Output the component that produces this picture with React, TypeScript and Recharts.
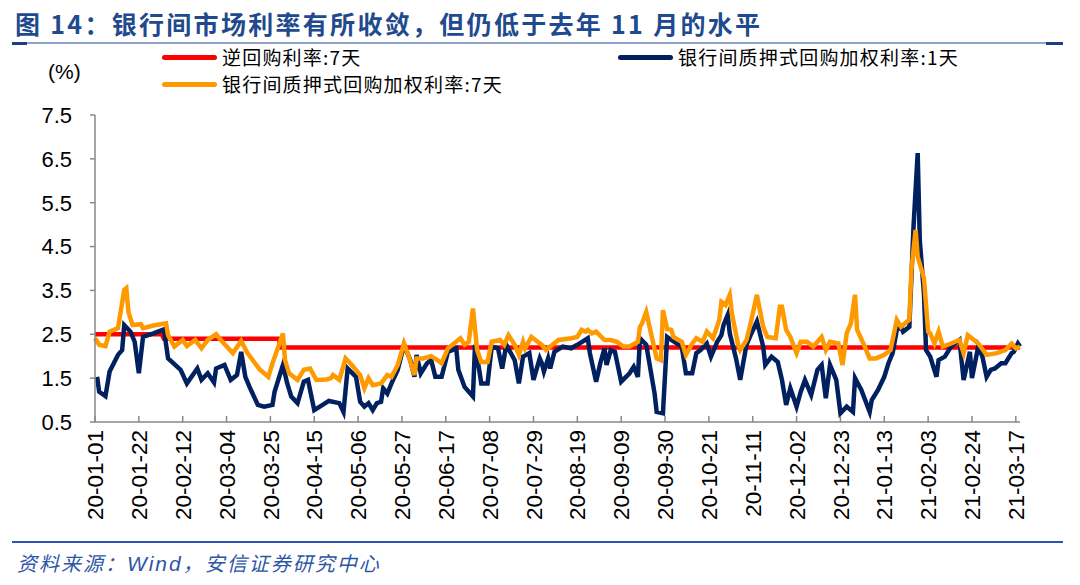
import React from "react";
import { Line, LineChart, XAxis, YAxis } from "recharts";

// x values are day offsets from 2020-01-01
const repoDays = [0, 32, 33, 88, 89, 443];
const repoRates = [2.5, 2.5, 2.4, 2.4, 2.2, 2.2];

const oneDayDays = [
  1, 2, 5, 7, 11, 13, 14, 17, 19, 21, 23, 28, 33, 35, 41, 44, 49, 51, 54, 57, 58, 62, 65, 68, 70, 72, 74, 78,
  81, 85, 86, 90, 92, 94, 97, 100, 102, 105, 109, 112, 117, 119, 121, 125, 127, 129, 131, 133, 135, 137, 138,
  140, 142, 145, 148, 151, 153, 154, 156, 159, 161, 163, 166, 169, 173, 174, 177, 181, 182, 184, 185, 188, 190,
  193, 195, 197, 201, 203, 205, 208, 210, 213, 214, 215, 217, 218, 220, 224, 228, 231, 236, 237, 240, 242, 244,
  245, 247, 249, 252, 256, 258, 260, 261, 264, 268, 269, 272, 274, 276, 281, 283, 286, 288, 290, 293, 295, 298,
  300, 301, 303, 304, 307, 309, 312, 314, 317, 320, 321, 324, 327, 329, 331, 333, 336, 338, 340, 343, 346, 348,
  350, 352, 355, 357, 360, 363, 364, 367, 371, 372, 375, 378, 380, 382, 384, 386, 387, 390, 392, 394, 395, 397,
  398, 400, 403, 404, 407, 410, 414, 416, 419, 420, 423, 425, 427, 429, 431, 434, 436, 439, 440, 442, 443,
];
const oneDayRates = [
  1.53, 1.19, 1.09, 1.65, 2.03, 2.14, 2.71, 2.56, 2.33, 1.61, 2.44, 2.52, 2.61, 1.95, 1.69, 1.38, 1.72, 1.46,
  1.61, 1.4, 1.72, 1.8, 1.46, 1.57, 2.1, 1.53, 1.3, 0.89, 0.85, 0.89, 1.19, 1.8, 1.39, 1.08, 0.93, 1.42, 1.46,
  0.77, 0.89, 0.98, 0.93, 0.73, 1.72, 1.53, 0.96, 0.85, 0.93, 0.77, 0.93, 0.96, 1.27, 1.15, 1.38, 1.69, 2.26,
  1.91, 1.53, 2.03, 1.61, 1.84, 1.91, 1.53, 1.53, 2.1, 2.18, 1.69, 1.3, 1.08, 2.26, 1.69, 1.38, 1.38, 2.22, 2.18,
  1.72, 2.26, 1.91, 1.38, 1.99, 2.07, 1.46, 1.95, 1.84, 1.65, 1.95, 1.72, 2.1, 2.22, 2.18, 2.26, 2.41, 2.07, 1.42,
  1.84, 2.18, 1.8, 2.14, 2.1, 1.42, 1.61, 1.76, 1.53, 2.41, 2.26, 1.15, 0.73, 0.7, 2.44, 2.37, 2.22, 1.61, 1.61,
  2.07, 2.14, 2.29, 1.99, 2.33, 2.48, 2.71, 2.94, 2.52, 1.95, 1.46, 2.26, 2.48, 2.79, 2.22, 1.8, 1.99, 1.87, 1.46,
  0.89, 1.27, 0.85, 1.19, 1.46, 1.12, 1.69, 1.8, 1.04, 1.8, 1.46, 0.7, 0.85, 0.73, 1.5, 1.23, 0.73, 1.0, 1.23,
  1.53, 1.84, 2.07, 2.6, 2.67, 2.56, 2.67, 4.95, 6.63, 4.65, 3.43, 2.14, 1.99, 1.53, 1.91, 1.99, 2.22, 2.37, 1.46,
  2.1, 1.5, 2.22, 1.99, 1.53, 1.69, 1.72, 1.84, 1.84, 2.07, 2.1, 2.29, 2.22,
];

const sevenDayDays = [
  0, 2, 5, 7, 11, 14, 15, 16, 18, 22, 23, 28, 34, 35, 38, 42, 44, 48, 51, 54, 58, 61, 66, 70, 73, 79, 83, 85, 90,
  91, 93, 97, 100, 103, 106, 111, 113, 114, 117, 120, 123, 127, 129, 131, 133, 137, 140, 142, 145, 148, 150, 153,
  154, 157, 161, 164, 166, 169, 175, 177, 179, 181, 183, 185, 188, 190, 194, 196, 198, 201, 203, 205, 206, 209,
  212, 214, 216, 218, 222, 228, 231, 233, 235, 236, 238, 240, 244, 247, 250, 253, 256, 260, 261, 262, 264, 267,
  269, 271, 272, 274, 276, 277, 281, 283, 286, 288, 291, 293, 296, 299, 300, 302, 304, 305, 308, 309, 312, 314,
  317, 320, 322, 326, 328, 329, 331, 333, 336, 338, 341, 344, 346, 348, 350, 352, 356, 358, 360, 362, 364, 365,
  368, 371, 374, 378, 381, 384, 386, 388, 390, 391, 393, 394, 397, 399, 400, 402, 404, 406, 410, 414, 416, 418,
  421, 423, 427, 432, 436, 439, 441, 443,
];
const sevenDayRates = [
  2.41, 2.26, 2.23, 2.56, 2.64, 3.51, 3.55, 3.01, 2.71, 2.73, 2.64, 2.7, 2.75, 2.48, 2.22, 2.37, 2.23, 2.37, 2.18,
  2.37, 2.5, 2.33, 2.07, 2.35, 2.07, 1.69, 1.53, 1.84, 2.52, 1.91, 1.61, 1.46, 1.69, 1.72, 1.46, 1.47, 1.5, 1.57,
  1.46, 1.95, 1.8, 1.57, 1.27, 1.5, 1.34, 1.38, 1.57, 1.53, 1.8, 2.29, 2.03, 1.57, 1.95, 1.95, 2.0, 1.91, 1.84,
  2.18, 2.41, 2.26, 2.33, 3.09, 2.14, 1.87, 1.87, 2.33, 2.37, 2.26, 2.48, 2.26, 2.03, 2.33, 2.18, 2.44, 2.33, 2.26,
  2.14, 2.22, 2.37, 2.41, 2.44, 2.6, 2.56, 2.6, 2.52, 2.56, 2.37, 2.37, 2.33, 2.22, 2.22, 2.33, 2.67, 2.75, 3.01,
  2.37, 1.95, 1.91, 3.05, 2.62, 2.6, 2.44, 2.33, 2.03, 2.29, 2.41, 2.33, 2.56, 2.41, 2.83, 3.24, 3.17, 3.4, 2.98,
  2.26, 2.14, 2.37, 2.75, 3.4, 2.67, 2.44, 2.41, 3.13, 3.13, 2.6, 2.44, 2.07, 2.33, 2.33, 2.22, 2.33, 2.44, 2.14,
  2.33, 2.29, 1.8, 2.52, 2.75, 3.4, 2.6, 2.29, 1.95, 1.95, 2.03, 2.14, 2.83, 2.67, 2.75, 2.83, 3.97, 4.88, 4.27,
  3.78, 2.56, 2.52, 2.29, 2.56, 2.22, 2.29, 2.37, 2.07, 2.48, 2.37, 2.29, 2.03, 2.07, 2.14, 2.29, 2.18, 2.22,
];

const yTicks = [0.5, 1.5, 2.5, 3.5, 4.5, 5.5, 6.5, 7.5];
const xTicks = [0, 21, 42, 63, 84, 105, 126, 147, 168, 189, 210, 231, 252, 273, 294, 315, 336, 357, 378, 399, 420, 441];

const zip = (days: number[], vals: number[]) => days.map((d, i) => ({ d, v: vals[i] }));
const repoData = zip(repoDays, repoRates);
const oneDayData = zip(oneDayDays, oneDayRates);
const sevenDayData = zip(sevenDayDays, sevenDayRates);

const FONT = '"Liberation Sans", Arial, "Noto Sans CJK SC", sans-serif';
const CJK = '"Noto Sans CJK SC", "Liberation Sans", sans-serif';

function dayLabel(d: number): string {
  const t = new Date(Date.UTC(2020, 0, 1) + d * 86400000);
  const yy = String(t.getUTCFullYear()).slice(2);
  const mm = String(t.getUTCMonth() + 1).padStart(2, "0");
  const dd = String(t.getUTCDate()).padStart(2, "0");
  return `${yy}-${mm}-${dd}`;
}

function DateTick(props: any) {
  const { x, y, payload } = props;
  return (
    <g>
      <line x1={x} y1={y} x2={x} y2={y - 6} stroke="#888" strokeWidth={1.5} />
      <text
        transform={`translate(${x},${y + 8}) rotate(-90)`}
        textAnchor="end"
        dy="0.36em"
        fontSize={22.5}
        fontFamily={FONT}
        fill="#000"
      >
        {dayLabel(payload.value)}
      </text>
    </g>
  );
}

function LegendItem({ color, label, left, top }: { color: string; label: string; left: number; top: number }) {
  return (
    <div style={{ position: "absolute", left, top, height: 22, display: "flex", alignItems: "center" }}>
      <div style={{ width: 55, height: 5, background: color, borderRadius: 3, marginRight: 5 }} />
      <span
        style={{
          fontSize: 19,
          lineHeight: "22px",
          fontFamily: CJK,
          color: "#000",
          letterSpacing: 1.2,
          whiteSpace: "nowrap",
        }}
      >
        {label}
      </span>
    </div>
  );
}

export default function App() {
  return (
    <div
      style={{
        position: "absolute",
        left: 0,
        top: 0,
        width: 1080,
        height: 585,
        background: "#fff",
        overflow: "hidden",
      }}
    >
      <div
        style={{
          position: "absolute",
          left: 15,
          top: 5,
          fontSize: 25,
          fontWeight: 700,
          fontFamily: CJK,
          color: "#1f4a8e",
          letterSpacing: 2.3,
          whiteSpace: "nowrap",
        }}
      >
        图 14：银行间市场利率有所收敛，但仍低于去年 11 月的水平
      </div>
      <div style={{ position: "absolute", left: 12, top: 42, width: 1051, height: 2, background: "#8fa3cc" }} />
      <div style={{ position: "absolute", left: 12, top: 42, width: 15, height: 3, background: "#1f3f80" }} />
      <div style={{ position: "absolute", left: 1046, top: 42, width: 17, height: 3, background: "#1f3f80" }} />

      <LegendItem color="#ff0000" label="逆回购利率:7天" left={162} top={46} />
      <LegendItem color="#002060" label="银行间质押式回购加权利率:1天" left={618} top={46} />
      <LegendItem color="#ff9900" label="银行间质押式回购加权利率:7天" left={162} top={73} />
      <div
        style={{
          position: "absolute",
          left: 48,
          top: 60,
          fontSize: 21,
          lineHeight: "24px",
          fontFamily: FONT,
          color: "#000",
        }}
      >
        (%)
      </div>

      <div style={{ position: "absolute", left: 0, top: 0 }}>
        <LineChart width={1080} height={540} margin={{ top: 115, right: 60, left: 35, bottom: 8 }}>
          <XAxis
            dataKey="d"
            type="number"
            domain={[0, 443]}
            ticks={xTicks}
            interval={0}
            allowDuplicatedCategory={false}
            tick={<DateTick />}
            tickLine={false}
            tickSize={0}
            tickMargin={0}
            height={110}
            stroke="#888"
            strokeWidth={1.5}
          />
          <YAxis
            type="number"
            domain={[0.5, 7.5]}
            ticks={yTicks}
            interval={0}
            width={60}
            tickFormatter={(v: number) => v.toFixed(1)}
            tick={{ fontSize: 22, fill: "#000", fontFamily: FONT }}
            tickSize={5}
            tickMargin={18}
            stroke="#888"
            strokeWidth={1.5}
          />
          <Line
            data={repoData}
            dataKey="v"
            type="linear"
            stroke="#ff0000"
            strokeWidth={4.5}
            dot={false}
            isAnimationActive={false}
          />
          <Line
            data={oneDayData}
            dataKey="v"
            type="linear"
            stroke="#002060"
            strokeWidth={4.5}
            dot={false}
            isAnimationActive={false}
          />
          <Line
            data={sevenDayData}
            dataKey="v"
            type="linear"
            stroke="#ff9900"
            strokeWidth={4.5}
            dot={false}
            isAnimationActive={false}
          />
        </LineChart>
      </div>

      <div style={{ position: "absolute", left: 12, top: 541, width: 1051, height: 2, background: "#2b55b5" }} />
      <div
        style={{
          position: "absolute",
          left: 17,
          top: 548,
          fontSize: 20,
          fontStyle: "italic",
          fontFamily: CJK,
          color: "#2e55a5",
          letterSpacing: 2,
          whiteSpace: "nowrap",
        }}
      >
        资料来源：<span style={{ fontFamily: FONT, fontSize: 21 }}>Wind</span>，安信证券研究中心
      </div>
    </div>
  );
}
